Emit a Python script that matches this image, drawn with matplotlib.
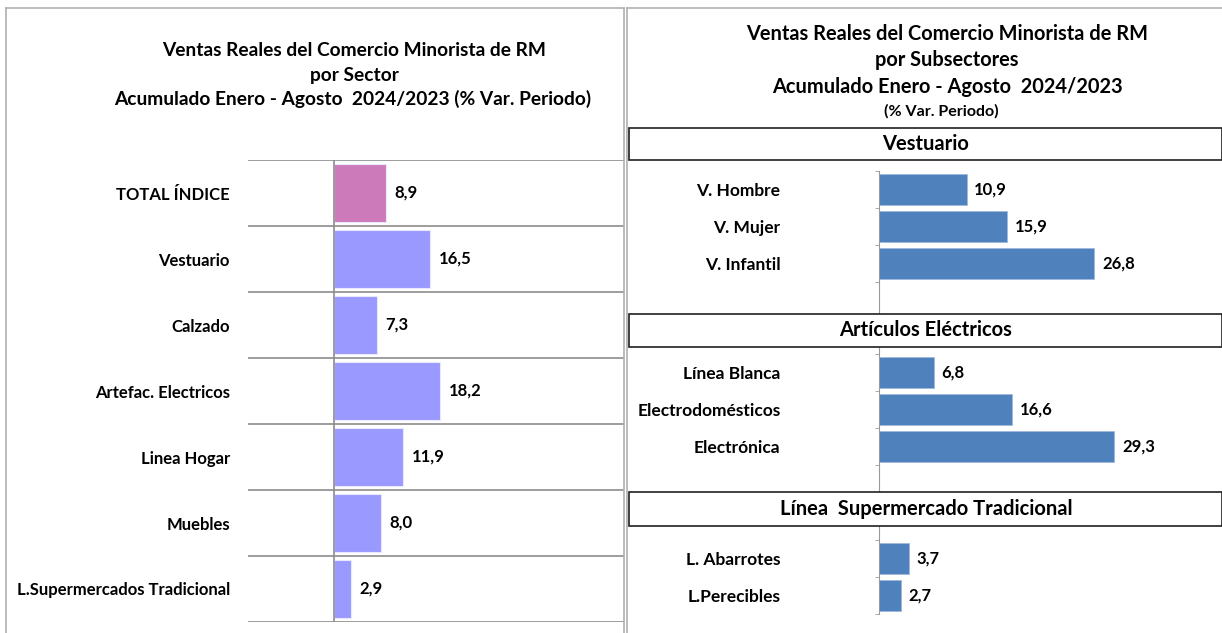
import matplotlib
matplotlib.use('Agg')
import matplotlib.pyplot as plt
from matplotlib.patches import Rectangle
from matplotlib.lines import Line2D

plt.rcParams['font.family'] = ['Lato', 'DejaVu Sans']
plt.rcParams['font.weight'] = 'bold'

# Left chart: sectors
sectores = ['TOTAL ÍNDICE', 'Vestuario', 'Calzado', 'Artefac. Electricos',
            'Linea Hogar', 'Muebles', 'L.Supermercados Tradicional']
var_sector = [8.9, 16.5, 7.3, 18.2, 11.9, 8.0, 2.9]

# Right chart: subsectors
vest_cats = ['V. Hombre', 'V. Mujer', 'V. Infantil']
vest_vals = [10.9, 15.9, 26.8]
elec_cats = ['Línea Blanca', 'Electrodomésticos', 'Electrónica']
elec_vals = [6.8, 16.6, 29.3]
super_cats = ['L. Abarrotes', 'L.Perecibles']
super_vals = [3.7, 2.7]

W, H = 1222, 633
GRAY = '#9a9a9a'


def box(x0, y0, x1, y1):
    return [x0 / W, 1 - y1 / H, (x1 - x0) / W, (y1 - y0) / H]


def fmt(v):
    return f'{v:.1f}'.replace('.', ',')


fig = plt.figure(figsize=(W / 100, H / 100), dpi=100)

# panel borders
for xs, ys in [([6, 6], [8, 633]), ([6, 624], [8, 8]), ([624, 624], [8, 633]),
               ([627, 627], [8, 633]), ([627, 1222], [8, 8])]:
    fig.add_artist(Line2D([x / W for x in xs], [1 - y / H for y in ys],
                          color='#b0b0b0', lw=1.2))

# ---------- left chart ----------
fig.text(354 / W, 1 - 50 / H, 'Ventas Reales del Comercio Minorista de RM',
         ha='center', va='center', fontsize=13.75)
fig.text(354 / W, 1 - 75 / H, 'por Sector', ha='center', va='center', fontsize=13.75)
fig.text(353 / W, 1 - 99 / H, 'Acumulado Enero - Agosto  2024/2023 (% Var. Periodo)',
         ha='center', va='center', fontsize=13.75)

ax = fig.add_axes(box(248, 160, 624, 622))
n = len(sectores)
ypos = list(range(n))
colors = ['#cc7ab9'] + ['#9999ff'] * (n - 1)
ax.barh(ypos, var_sector, height=0.87, color=colors, edgecolor='#e8e8ff', lw=0.8)
ax.set_xlim(-14.75, 49.75)
ax.set_ylim(n - 0.5, -0.5)
for b in range(n + 1):
    ax.axhline(b - 0.5, color='#8c8c8c', lw=1.2)
ax.axvline(0, color='#8c8c8c', lw=1.2)
for s in ax.spines.values():
    s.set_visible(False)
ax.set_xticks([])
ax.set_yticks(ypos)
ax.set_yticklabels(sectores, fontsize=12, fontweight='bold')
ax.tick_params(axis='y', length=0, pad=13)
for i, v in enumerate(var_sector):
    ax.annotate(fmt(v), (v, i), xytext=(6, 0), textcoords='offset points',
                va='center', ha='left', fontsize=12, fontweight='bold')

# ---------- right chart ----------
fig.text(947 / W, 1 - 34 / H, 'Ventas Reales del Comercio Minorista de RM',
         ha='center', va='center', fontsize=14.4)
fig.text(947 / W, 1 - 60 / H, 'por Subsectores', ha='center', va='center', fontsize=14.4)
fig.text(947 / W, 1 - 87 / H, 'Acumulado Enero - Agosto  2024/2023',
         ha='center', va='center', fontsize=14.4)
fig.text(941 / W, 1 - 111 / H, '(% Var. Periodo)', ha='center', va='center', fontsize=11.5)

sections = [
    ('Vestuario', vest_cats, vest_vals, (128, 160), (171, 314), 0.0),
    ('Artículos Eléctricos', elec_cats, elec_vals, (314, 347), (347, 492), 7.0),
    ('Línea  Supermercado Tradicional', super_cats, super_vals, (492, 526), (526, 614), 14.0),
]
slot = 37.0
for title, cats, vals, (hb0, hb1), (a0, a1), gap in sections:
    ax = fig.add_axes(box(879, a0, 1222, a1))
    m = len(cats)
    ytop = -0.5 - gap / slot
    ybot = ytop + (a1 - a0) / slot
    ax.barh(range(m), vals, height=0.84, color='#4f81bd', edgecolor='#9fb8dc', lw=0.6)
    ax.set_xlim(0, 42.7)
    ax.set_ylim(ybot, ytop)
    for k in ['top', 'right', 'bottom']:
        ax.spines[k].set_visible(False)
    ax.spines['left'].set_color(GRAY)
    ax.set_xticks([])
    ax.set_yticks(range(m))
    ax.set_yticklabels(cats, fontsize=12.5, fontweight='bold')
    ax.tick_params(axis='y', which='major', length=0, pad=71)
    bounds = [b - 0.5 for b in range(m + 2) if b - 0.5 <= ybot]
    ax.set_yticks(bounds, minor=True)
    ax.tick_params(axis='y', which='minor', length=3, color=GRAY, direction='out')
    for i, v in enumerate(vals):
        ax.annotate(fmt(v), (v, i), xytext=(5.5, 0), textcoords='offset points',
                    va='center', ha='left', fontsize=12, fontweight='bold')
    # header box
    fig.add_artist(Rectangle((629 / W, 1 - hb1 / H), (1222 - 629) / W, (hb1 - hb0) / H,
                             transform=fig.transFigure, facecolor='white',
                             edgecolor='#202020', lw=1.2, zorder=5))
    fig.text(926 / W, 1 - (hb0 + hb1) / 2 / H, title, ha='center', va='center',
             fontsize=14.5, zorder=6)

fig.savefig('out.png', dpi=100)
